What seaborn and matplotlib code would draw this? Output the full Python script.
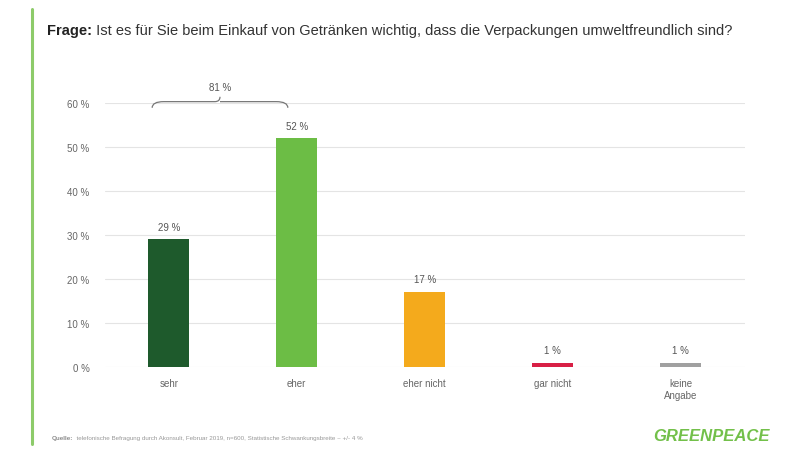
import matplotlib
matplotlib.use("Agg")
import matplotlib.pyplot as plt
import seaborn as sns
import pandas as pd
from matplotlib.path import Path
from matplotlib.patches import PathPatch
from matplotlib.lines import Line2D

categories = ["sehr", "eher", "eher nicht", "gar nicht", "keine\nAngabe"]
values = [29, 52, 17, 1, 1]
value_labels = ["29 %", "52 %", "17 %", "1 %", "1 %"]
yticks = [0, 10, 20, 30, 40, 50, 60]
ytick_labels = ["0 %", "10 %", "20 %", "30 %", "40 %", "50 %", "60 %"]
colors = ["#1e5a2c", "#6cbd45", "#f4aa1c", "#d81f45", "#a0a0a0"]
bracket_label = "81 %"
title_bold = "Frage:"
title_rest = " Ist es für Sie beim Einkauf von Getränken wichtig, dass die Verpackungen umweltfreundlich sind?"
source_bold = "Quelle:"
source_rest = "  telefonische Befragung durch Akonsult, Februar 2019, n=600, Statistische Schwankungsbreite ~ +/- 4 %"

sns.set_theme(style="white")
plt.rcParams['font.family'] = ['Liberation Sans Narrow', 'Liberation Sans', 'DejaVu Sans']

df = pd.DataFrame({"cat": categories, "val": values})

fig = plt.figure(figsize=(8, 4.52), dpi=100)
ax = fig.add_axes([0.131, 0.186, 0.80, 0.584])
sns.barplot(data=df, x="cat", y="val", hue="cat", palette=colors, legend=False,
            width=0.32, ax=ax, saturation=1, linewidth=0)
ax.set_xlim(-0.5, 4.5)
ax.set_ylim(0, 60)
ax.set_yticks(yticks)
ax.set_yticklabels(ytick_labels)
ax.set_xlabel("")
ax.set_ylabel("")
for s in ax.spines.values():
    s.set_visible(False)
ax.grid(axis="y", color="#e4e4e4", linewidth=0.8)
ax.set_axisbelow(True)
ax.tick_params(axis="y", length=0, labelsize=7, labelcolor="#666666", pad=11)
ax.tick_params(axis="x", length=0, labelsize=7, labelcolor="#666666", pad=8)

for i, (v, lab) in enumerate(zip(values, value_labels)):
    ax.annotate(lab, (i, v), xytext=(0, 5.5), textcoords="offset points",
                ha="center", va="bottom", fontsize=7, color="#555555")

# bracket over sehr + eher
x0, x1 = -0.13, 0.93
xc = (x0 + x1) / 2
yb, yl = 58.9, 60.3
verts = [(x0, yb), (x0, yl), (x0 + 0.09, yl), (xc - 0.04, yl), (xc, yl), (xc, yl + 1.1),
         (xc, yl), (xc + 0.04, yl), (x1 - 0.09, yl), (x1, yl), (x1, yb)]
codes = [Path.MOVETO, Path.CURVE3, Path.CURVE3, Path.LINETO, Path.CURVE3, Path.CURVE3,
         Path.MOVETO, Path.CURVE3, Path.LINETO, Path.CURVE3, Path.CURVE3]
ax.add_patch(PathPatch(Path(verts, codes), fill=False, edgecolor="#777777", lw=0.9, clip_on=False))
ax.text(xc, 62.6, bracket_label, ha="center", va="bottom", fontsize=7, color="#555555")

# left green rule
fig.add_artist(Line2D([0.040, 0.040], [0.015, 0.978], color="#8dcb6a", lw=2.2))

# title
t1 = fig.text(0.059, 0.932, title_bold, fontsize=10.5, fontweight="bold", color="#222222", va="center")
fig.canvas.draw()
bb = t1.get_window_extent(fig.canvas.get_renderer())
fig.text(bb.x1 / fig.bbox.width, 0.932, title_rest, fontsize=10.5, color="#333333", va="center")

# source
s1 = fig.text(0.065, 0.030, source_bold, fontsize=4.5, fontweight="bold", color="#888888", va="center")
fig.canvas.draw()
bb = s1.get_window_extent(fig.canvas.get_renderer())
fig.text(bb.x1 / fig.bbox.width, 0.030, source_rest, fontsize=4.5, color="#999999", va="center")

fig.text(0.962, 0.035, "GREENPEACE", fontsize=12, fontweight="bold", style="italic",
         color="#73c04a", ha="right", va="center")

fig.savefig("out.png", dpi=100, facecolor="white")
